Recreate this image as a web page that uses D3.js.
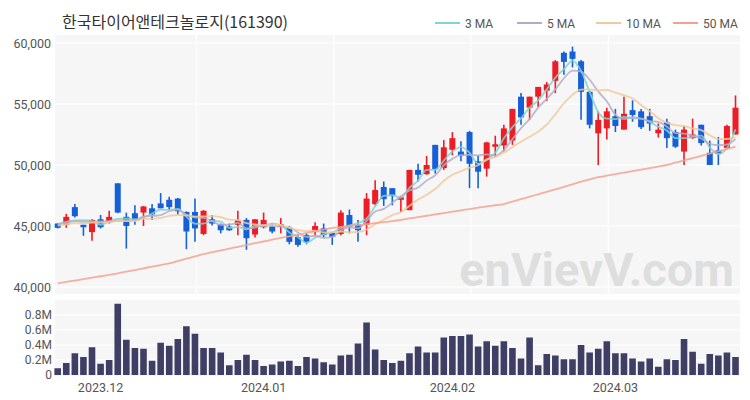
<!DOCTYPE html>
<html><head><meta charset="utf-8">
<script src="https://cdn.jsdelivr.net/npm/d3@7"></script>
<style>
html,body{margin:0;padding:0;background:#fff;}
svg{display:block;font-family:Roboto,"Noto Sans CJK KR",sans-serif;}
</style></head>
<body><svg id="c" width="750" height="400"></svg>
<script>
const title = "한국타이어앤테크놀로지(161390)";
const dates = [
"2023-11-24","2023-11-27","2023-11-28","2023-11-29","2023-11-30",
"2023-12-01","2023-12-04","2023-12-05","2023-12-06","2023-12-07","2023-12-08","2023-12-11","2023-12-12","2023-12-13","2023-12-14","2023-12-15","2023-12-18","2023-12-19","2023-12-20","2023-12-21","2023-12-22","2023-12-26","2023-12-27","2023-12-28",
"2024-01-02","2024-01-03","2024-01-04","2024-01-05","2024-01-08","2024-01-09","2024-01-10","2024-01-11","2024-01-12","2024-01-15","2024-01-16","2024-01-17","2024-01-18","2024-01-19","2024-01-22","2024-01-23","2024-01-24","2024-01-25","2024-01-26","2024-01-29","2024-01-30","2024-01-31",
"2024-02-01","2024-02-02","2024-02-05","2024-02-06","2024-02-07","2024-02-08","2024-02-13","2024-02-14","2024-02-15","2024-02-16","2024-02-19","2024-02-20","2024-02-21","2024-02-22","2024-02-23","2024-02-26","2024-02-27","2024-02-28","2024-02-29",
"2024-03-04","2024-03-05","2024-03-06","2024-03-07","2024-03-08","2024-03-11","2024-03-12","2024-03-13","2024-03-14","2024-03-15","2024-03-18","2024-03-19","2024-03-20","2024-03-21","2024-03-22"];
const open  = [45200,45100,46550,45100,44500,45550,45300,48500,45750,46050,46100,46450,46850,47150,47250,46150,46150,44350,45550,45150,44950,45100,45500,44300,44900,44950,44950,44850,44100,44250,44500,44800,44450,44350,45900,45100,45100,46800,48200,48100,47150,46300,49600,49250,51650,49750,51250,51100,52700,50300,49700,51500,51600,52000,55600,54700,55600,56100,56900,59200,59300,58500,56000,52600,53000,54000,52900,54500,54400,54000,52600,53500,52700,51100,52200,53300,51000,51200,51400,52500];
const high  = [45250,46000,46800,45100,45550,45900,46250,48500,46100,46700,46650,46800,47700,47400,47300,46200,47250,46300,45900,45200,45200,46250,45650,45550,46100,45200,45650,45000,44250,44400,45300,45200,44500,46300,46350,45500,47700,48750,48650,48100,47450,49600,50100,50750,51650,52050,52700,51950,52800,50750,51900,52400,53300,54600,55900,55600,56400,56800,58600,59300,59700,58600,56100,54400,54700,54600,55600,55300,54600,54600,53400,53800,52900,53200,53800,53300,52000,52300,53300,55700];
const low   = [44800,44850,45700,44200,43800,44800,45200,46050,43150,45100,45000,45500,46450,46300,45900,43100,43700,44250,45050,44400,44600,44250,43050,44050,44800,44400,44400,43500,43300,43500,44250,44050,43450,44250,44400,43700,44250,46700,46650,46700,46150,46300,48650,49200,49300,49600,50800,50300,48100,48100,49050,50700,51100,51650,53300,53700,54750,55250,55900,57400,58000,53700,53000,50000,52100,52700,52900,53550,52950,52800,52250,51400,51400,50000,52150,51600,50000,50000,51300,52500];
const close = [44850,45750,45800,44900,45500,44900,45750,46100,45000,45500,46600,45950,46450,46550,46200,44550,44800,46250,45200,44650,44650,45500,44000,45550,45500,44550,45150,43700,43450,43700,45000,44250,44100,46100,44950,44650,47250,47950,47200,47450,47350,49600,49200,50000,49650,51450,52200,50750,50100,49450,51850,51700,53000,54600,53900,55600,56400,56600,58500,58450,58700,56000,53300,53700,54400,53200,54200,54100,53100,53400,52900,52200,51500,52900,52500,51800,50000,50900,53200,54700];
const volume = [0.09,0.16,0.29,0.24,0.37,0.15,0.2,0.95,0.47,0.36,
0.35,0.19,0.43,0.39,0.48,0.65,0.55,0.36,0.36,0.3,
0.13,0.2,0.27,0.2,0.12,0.14,0.18,0.19,0.12,0.24,
0.22,0.17,0.14,0.26,0.27,0.42,0.7,0.34,0.2,0.16,
0.19,0.29,0.38,0.3,0.3,0.5,0.52,0.52,0.54,0.38,
0.45,0.39,0.45,0.36,0.22,0.5,0.13,0.28,0.26,0.21,
0.21,0.4,0.3,0.35,0.45,0.29,0.29,0.22,0.18,0.22,
0.11,0.21,0.2,0.48,0.31,0.15,0.28,0.26,0.3,0.24];
// closes of the 9 sessions before the window (estimated from MA start values)
const priorCloses = [44700,44900,45100,44800,45000,45300,45100,45200,45400];
// 50-day MA
const ma50 = [40300,40420,40530,40650,40770,40880,41000,41120,41260,41390,
41530,41670,41800,41940,42130,42320,42510,42700,42850,43000,
43140,43290,43440,43590,43730,43880,44020,44150,44290,44430,
44570,44700,44840,44920,45000,45080,45160,45240,45320,45400,
45510,45620,45730,45840,45950,46060,46170,46280,46390,46500,
46600,46700,46800,47000,47200,47400,47600,47800,48000,48200,
48420,48640,48830,49000,49120,49250,49370,49500,49620,49750,
49870,50000,50190,50370,50560,50750,50940,51120,51310,51500];
const priceTicks = [40000,45000,50000,55000,60000];
const volTicks = [0,0.2,0.4,0.6,0.8];
const volTickLabels = ["0","0.2M","0.4M","0.6M","0.8M"];
const maPeriods = [3,5,10,50];
const maLabels = ["3 MA","5 MA","10 MA","50 MA"];
const maColors = ["#80d4cc","#b7aac9","#f0ca9c","#f5a190"];
const upColor = "#ee1c25", downColor = "#1560d8", volColor = "#3f3f66";

const svg = d3.select("#c");
const x = d3.scaleBand().domain(dates).range([53.4, 739.8]).padding(0);
const bw = x.bandwidth();
const cx = d => x(d) + bw/2;
const y = d3.scaleLinear().domain([40000,60000]).range([287,43]);
const yv = d3.scaleLinear().domain([0,0.8]).range([375,315]);

// panels
svg.append("rect").attr("x",55).attr("y",35).attr("width",685).attr("height",259).attr("fill","#f6f6f6");
svg.append("rect").attr("x",55).attr("y",300).attr("width",685).attr("height",76).attr("fill","#f6f6f6");

// grid
svg.append("g").selectAll("line").data(priceTicks).join("line")
  .attr("x1",55).attr("x2",740).attr("y1",d=>y(d)).attr("y2",d=>y(d))
  .attr("stroke","#fff").attr("stroke-width",1.2);
svg.append("g").selectAll("line").data(volTicks.slice(1)).join("line")
  .attr("x1",55).attr("x2",740).attr("y1",d=>yv(d)).attr("y2",d=>yv(d))
  .attr("stroke","#fff").attr("stroke-width",1.2);
const vgrid = dates.filter((d,i)=> i>0 && i%16===0);
svg.append("g").selectAll("line").data(vgrid).join("line")
  .attr("x1",d=>cx(d)+1.5).attr("x2",d=>cx(d)+1.5).attr("y1",35).attr("y2",294)
  .attr("stroke","#fff").attr("stroke-width",1.2);

// axes
const ya = svg.append("g").attr("transform","translate(51,0)")
  .call(d3.axisLeft(y).tickValues(priceTicks).tickFormat(d3.format(",")).tickSize(0).tickPadding(0));
const yva = svg.append("g").attr("transform","translate(52,0)")
  .call(d3.axisLeft(yv).tickValues(volTicks).tickFormat((d,i)=>volTickLabels[i]).tickSize(0).tickPadding(0));
const monthStarts = dates.filter((d,i)=> i>0 && d.slice(0,7)!==dates[i-1].slice(0,7));
const xa = svg.append("g").attr("transform","translate(0,376)")
  .call(d3.axisBottom(x).tickValues(monthStarts).tickFormat(d=>d.slice(0,7).replace("-",".")).tickSize(0).tickPadding(7));
[ya,xa].forEach(g=>{g.select(".domain").remove();
  g.selectAll("text").attr("fill","#555").attr("font-size","12.5px").attr("font-family","Roboto,sans-serif");});
yva.select(".domain").remove();
yva.selectAll("text").attr("fill","#555").attr("font-size","12px").attr("font-family","Roboto,sans-serif");

// watermark
svg.append("text").attr("x",734).attr("y",286).attr("text-anchor","end")
  .attr("font-size","47px").attr("font-family","Roboto,sans-serif").attr("font-weight","700")
  .attr("fill","#dedede").text("enVievV.com");

// volume bars
svg.append("g").selectAll("rect").data(dates).join("rect")
  .attr("x",d=>cx(d)-3.3).attr("width",6.6)
  .attr("y",(d,i)=>yv(volume[i])).attr("height",(d,i)=>yv(0)-yv(volume[i]))
  .attr("fill",volColor);

// candles
const cg = svg.append("g");
dates.forEach((d,i)=>{
  const up = close[i] >= open[i];
  const col = up ? upColor : downColor;
  cg.append("line").attr("x1",cx(d)).attr("x2",cx(d)).attr("y1",y(high[i])).attr("y2",y(low[i]))
    .attr("stroke",col).attr("stroke-width",1.6);
  const top = y(Math.max(open[i],close[i])), bot = y(Math.min(open[i],close[i]));
  cg.append("rect").attr("x",cx(d)-3).attr("width",6).attr("y",top).attr("height",Math.max(bot-top,1.5)).attr("fill",col);
});

// moving averages
const all = priorCloses.concat(close);
const maSeries = maPeriods.map(p => p===50 ? ma50 :
  close.map((c,i)=> d3.mean(all.slice(i+priorCloses.length-p+1, i+priorCloses.length+1))));
const line = d3.line().x((v,i)=>cx(dates[i])).y(v=>y(v)).curve(d3.curveMonotoneX);
maSeries.forEach((s,k)=>{
  svg.append("path").attr("d",line(s)).attr("fill","none").attr("stroke",maColors[k])
    .attr("stroke-width",1.8).attr("opacity",0.85);
});

// title
svg.append("text").attr("x",62).attr("y",28).attr("font-size","16px")
  .attr("font-family","'Noto Sans CJK KR',sans-serif").attr("fill","#333").text(title);

// legend
const legX = [435,517,596,673];
maLabels.forEach((t,k)=>{
  svg.append("line").attr("x1",legX[k]).attr("x2",legX[k]+25).attr("y1",23).attr("y2",23)
    .attr("stroke",maColors[k]).attr("stroke-width",2);
  svg.append("text").attr("x",legX[k]+30).attr("y",27.5).attr("font-size","12px")
    .attr("font-family","Roboto,sans-serif").attr("fill","#555").text(t);
});
</script></body></html>
